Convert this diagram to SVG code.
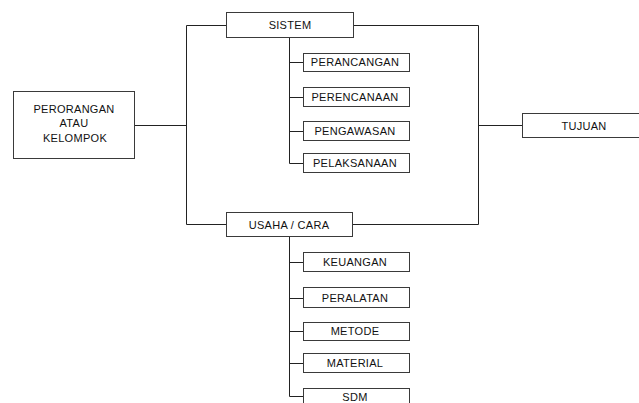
<svg xmlns="http://www.w3.org/2000/svg" width="639" height="403" viewBox="0 0 639 403">
<style>
.box{fill:#fff;stroke:#3a3a3a;stroke-width:1}
.ln{fill:none;stroke:#222;stroke-width:1}
text{font-family:"Liberation Sans",Arial,sans-serif;font-size:11px;letter-spacing:0.3px;fill:#111;text-anchor:middle}
</style>
<rect width="639" height="403" fill="#fff"/>
<g id="connectors">
<path class="ln" d="M135 125.5H186.5M186.5 25.5V224.5M186.5 25.5H226M186.5 224.5H226"/>
<path class="ln" d="M354 25.5H478.5V224.5H353M478.5 125.5H522"/>
<path class="ln" d="M289.5 38V163.5M289.5 62.5H303M289.5 97.5H303M289.5 131.5H303M289.5 163.5H303"/>
<path class="ln" d="M289.5 237V396.5M289.5 262.5H303M289.5 298.5H303M289.5 331.5H303M289.5 363.5H303M289.5 396.5H303"/>
</g>
<g id="perorangan"><rect class="box" x="13.5" y="91.5" width="121" height="67"/>
<text x="74" y="113">PERORANGAN</text><text x="74" y="127">ATAU</text><text x="75" y="142">KELOMPOK</text></g>
<g id="sistem"><rect class="box" x="226.5" y="12.5" width="127" height="25"/><text x="290" y="29">SISTEM</text></g>
<g id="tujuan"><rect class="box" x="522.5" y="113.5" width="130" height="24"/><text x="584" y="130">TUJUAN</text></g>
<g id="usaha"><rect class="box" x="226.5" y="212.5" width="126" height="24"/><text x="289" y="229">USAHA / CARA</text></g>
<g id="perancangan"><rect class="box" x="303.5" y="53.5" width="106" height="18"/><text x="355" y="66">PERANCANGAN</text></g>
<g id="perencanaan"><rect class="box" x="303.5" y="87.5" width="106" height="19"/><text x="355" y="101">PERENCANAAN</text></g>
<g id="pengawasan"><rect class="box" x="303.5" y="121.5" width="106" height="19"/><text x="355" y="135">PENGAWASAN</text></g>
<g id="pelaksanaan"><rect class="box" x="303.5" y="153.5" width="106" height="19"/><text x="355" y="167">PELAKSANAAN</text></g>
<g id="keuangan"><rect class="box" x="303.5" y="252.5" width="106" height="19"/><text x="355" y="266">KEUANGAN</text></g>
<g id="peralatan"><rect class="box" x="303.5" y="287.5" width="106" height="20"/><text x="355" y="302">PERALATAN</text></g>
<g id="metode"><rect class="box" x="303.5" y="322.5" width="106" height="18"/><text x="355" y="335">METODE</text></g>
<g id="material"><rect class="box" x="303.5" y="353.5" width="106" height="19"/><text x="355" y="367">MATERIAL</text></g>
<g id="sdm"><rect class="box" x="303.5" y="388.5" width="106" height="20"/><text x="355" y="401">SDM</text></g>
</svg>
